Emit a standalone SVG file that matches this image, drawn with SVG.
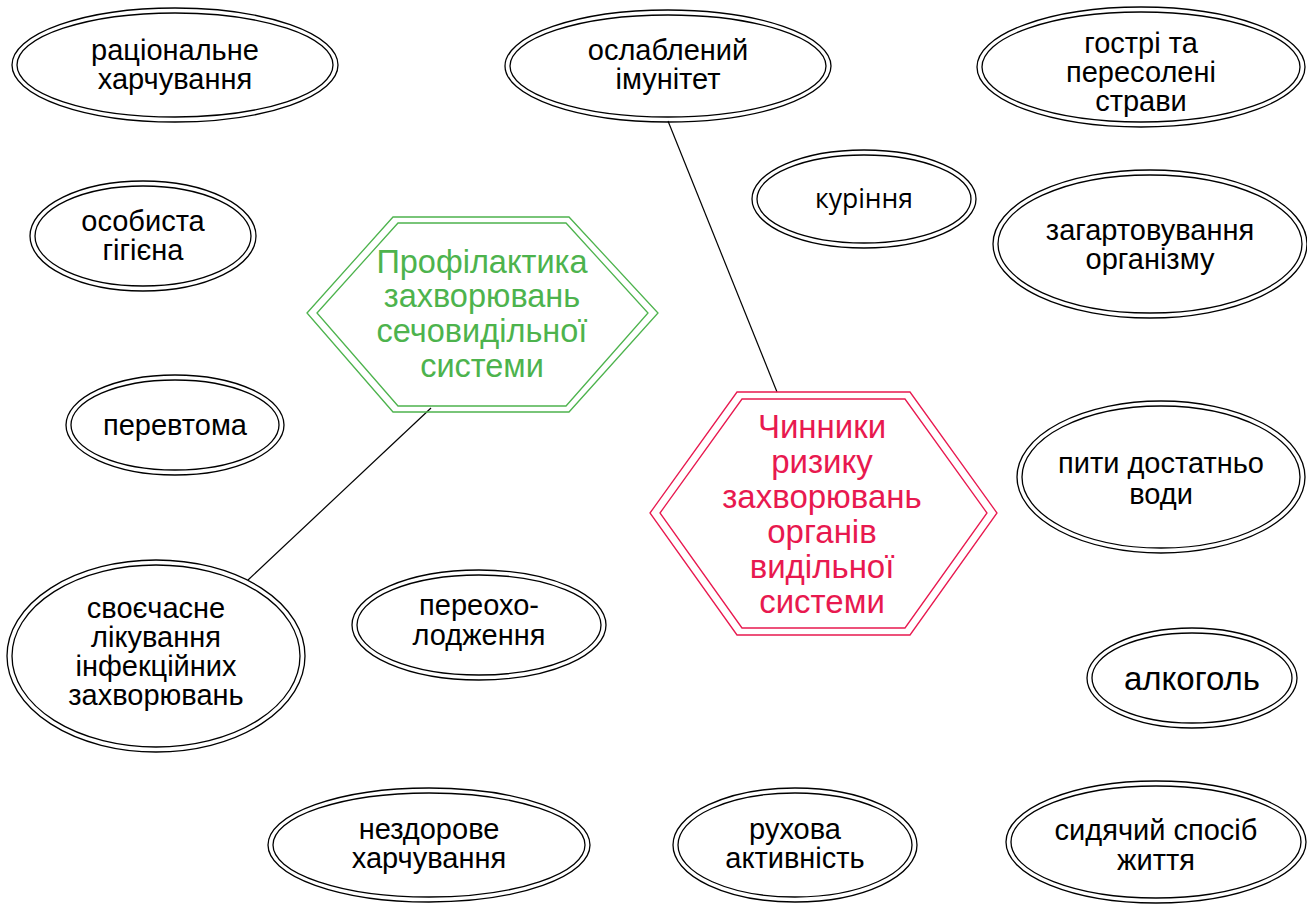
<svg xmlns="http://www.w3.org/2000/svg" width="1307" height="904" viewBox="0 0 1307 904">
<style>
.o{fill:none;stroke:#000;stroke-width:1.3}
.t{font-family:"Liberation Sans",Arial,sans-serif;font-size:29px;fill:#000;text-anchor:middle}
.k{font-family:"Open Sans","Noto Sans",sans-serif;font-size:26.5px;fill:#000;text-anchor:middle}
.hg{fill:none;stroke:#4db34d;stroke-width:1.3}
.hr{fill:none;stroke:#e8194f;stroke-width:1.3}
.tg{font-family:"Liberation Sans",Arial,sans-serif;font-size:32.5px;fill:#4db34d;text-anchor:middle}
.tr{font-family:"Liberation Sans",Arial,sans-serif;font-size:33px;fill:#e8194f;text-anchor:middle}
.c{stroke:#000;stroke-width:1.2;fill:none}
</style>
<rect width="1307" height="904" fill="#fff"/>
<g id="connectors">
<line class="c" x1="668" y1="121" x2="777" y2="392"/>
<line class="c" x1="431" y1="408" x2="248" y2="580"/>
</g>
<g id="hex-prevention">
<polygon class="hg" points="307,313 393,217 569,217 658,313 569,412 393,412"/>
<polygon class="hg" points="317,313 398,223 566,223 648,313 566,406 398,406"/>
<text class="tg" x="482" y="273">Профілактика</text>
<text class="tg" x="482" y="307">захворювань</text>
<text class="tg" x="482" y="342">сечовидільної</text>
<text class="tg" x="482" y="377">системи</text>
</g>
<g id="hex-risk">
<polygon class="hr" points="650,513 737,392 910,392 997,513 910,635 737,635"/>
<polygon class="hr" points="660,513 742,399 905,399 987,513 905,628 742,628"/>
<text class="tr" x="822" y="438">Чинники</text>
<text class="tr" x="822" y="473">ризику</text>
<text class="tr" x="822" y="508">захворювань</text>
<text class="tr" x="822" y="543">органів</text>
<text class="tr" x="822" y="578">видільної</text>
<text class="tr" x="822" y="613">системи</text>
</g>
<g id="n1">
<ellipse class="o" cx="175" cy="65" rx="163" ry="57"/><ellipse class="o" cx="175" cy="65" rx="158" ry="52"/>
<text class="t" x="175" y="60">раціональне</text><text class="t" x="175" y="89">харчування</text>
</g>
<g id="n2">
<ellipse class="o" cx="668" cy="66" rx="163" ry="56"/><ellipse class="o" cx="668" cy="66" rx="158" ry="51"/>
<text class="t" x="668" y="60">ослаблений</text><text class="t" x="668" y="89">імунітет</text>
</g>
<g id="n3">
<ellipse class="o" cx="1141" cy="67" rx="164" ry="60"/><ellipse class="o" cx="1141" cy="67" rx="159" ry="55"/>
<text class="t" x="1141" y="53">гострі та</text><text class="t" x="1141" y="82">пересолені</text><text class="t" x="1141" y="111">страви</text>
</g>
<g id="n4">
<ellipse class="o" cx="864" cy="199" rx="112" ry="49"/><ellipse class="o" cx="864" cy="199" rx="107" ry="44"/>
<text class="k" x="864" y="208">куріння</text>
</g>
<g id="n5">
<ellipse class="o" cx="1150" cy="244" rx="157" ry="74"/><ellipse class="o" cx="1150" cy="244" rx="152" ry="69"/>
<text class="t" x="1150" y="240">загартовування</text><text class="t" x="1150" y="269">організму</text>
</g>
<g id="n6">
<ellipse class="o" cx="143" cy="236" rx="113" ry="55"/><ellipse class="o" cx="143" cy="236" rx="108" ry="50"/>
<text class="t" x="143" y="231">особиста</text><text class="t" x="143" y="260">гігієна</text>
</g>
<g id="n7">
<ellipse class="o" cx="175" cy="425" rx="109" ry="50"/><ellipse class="o" cx="175" cy="425" rx="104" ry="45"/>
<text class="t" x="175" y="435">перевтома</text>
</g>
<g id="n8">
<ellipse class="o" cx="1161" cy="477" rx="144" ry="76"/><ellipse class="o" cx="1161" cy="477" rx="139" ry="71"/>
<text class="t" x="1161" y="473">пити достатньо</text><text class="t" x="1161" y="504">води</text>
</g>
<g id="n9">
<ellipse class="o" cx="156" cy="656" rx="149" ry="96"/><ellipse class="o" cx="156" cy="656" rx="144" ry="91"/>
<text class="t" x="156" y="618">своєчасне</text><text class="t" x="156" y="647">лікування</text><text class="t" x="156" y="676">інфекційних</text><text class="t" x="156" y="705">захворювань</text>
</g>
<g id="n10">
<ellipse class="o" cx="479" cy="625" rx="127" ry="55"/><ellipse class="o" cx="479" cy="625" rx="122" ry="50"/>
<text class="t" x="479" y="615">переохо-</text><text class="t" x="479" y="645">лодження</text>
</g>
<g id="n11">
<ellipse class="o" cx="1192" cy="678" rx="105" ry="50"/><ellipse class="o" cx="1192" cy="678" rx="100" ry="45"/>
<text class="t" x="1192" y="690" style="font-size:33px">алкоголь</text>
</g>
<g id="n12">
<ellipse class="o" cx="429" cy="845" rx="161" ry="57"/><ellipse class="o" cx="429" cy="845" rx="156" ry="52"/>
<text class="t" x="429" y="839">нездорове</text><text class="t" x="429" y="868">харчування</text>
</g>
<g id="n13">
<ellipse class="o" cx="795" cy="845" rx="122" ry="57"/><ellipse class="o" cx="795" cy="845" rx="117" ry="52"/>
<text class="t" x="795" y="839">рухова</text><text class="t" x="795" y="868">активність</text>
</g>
<g id="n14">
<ellipse class="o" cx="1156" cy="842" rx="150" ry="61"/><ellipse class="o" cx="1156" cy="842" rx="145" ry="56"/>
<text class="t" x="1156" y="840">сидячий спосіб</text><text class="t" x="1156" y="870">життя</text>
</g>
</svg>
